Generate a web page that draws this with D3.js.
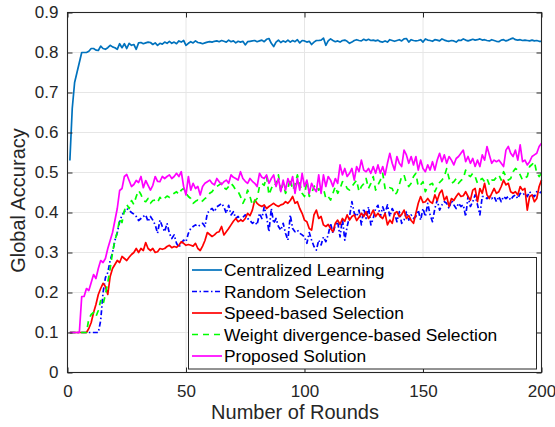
<!DOCTYPE html>
<html>
<head>
<meta charset="utf-8">
<script src="https://cdn.jsdelivr.net/npm/d3@7"></script>
<style>
  body { margin: 0; background: #fff; }
  svg { display: block; font-family: "Liberation Sans", Arial, Helvetica, sans-serif; }
</style>
</head>
<body>
<div id="display"></div>
<script>
// accuracy per round (rounds 1..200)
var centralized = [
  0.53, 0.66, 0.725, 0.75, 0.775, 0.80, 0.80, 0.80, 0.803, 0.81,
  0.81, 0.806, 0.805, 0.816, 0.81, 0.808, 0.812, 0.818, 0.814, 0.812,
  0.808, 0.822, 0.812, 0.822, 0.81, 0.823, 0.818, 0.82, 0.808, 0.824,
  0.825, 0.822, 0.824, 0.826, 0.825, 0.82, 0.824, 0.818, 0.823, 0.821,
  0.826, 0.823, 0.828, 0.823, 0.826, 0.822, 0.829, 0.826, 0.83, 0.818,
  0.823, 0.827, 0.824, 0.829, 0.825, 0.824, 0.822, 0.824, 0.826, 0.827,
  0.826, 0.828, 0.829, 0.827, 0.83, 0.828, 0.826, 0.831, 0.827, 0.829,
  0.824, 0.828, 0.826, 0.828, 0.819, 0.827, 0.828, 0.829, 0.83, 0.827,
  0.829, 0.831, 0.827, 0.833, 0.835, 0.823, 0.815, 0.826, 0.831, 0.825,
  0.829, 0.826, 0.831, 0.826, 0.83, 0.827, 0.832, 0.824, 0.83, 0.829,
  0.826, 0.828, 0.82, 0.826, 0.83, 0.83, 0.831, 0.836, 0.818, 0.829,
  0.834, 0.83, 0.827, 0.829, 0.826, 0.83, 0.831, 0.828, 0.823, 0.826,
  0.83, 0.832, 0.83, 0.829, 0.833, 0.83, 0.833, 0.83, 0.831, 0.829,
  0.831, 0.827, 0.826, 0.829, 0.826, 0.832, 0.83, 0.828, 0.83, 0.832,
  0.829, 0.834, 0.835, 0.826, 0.832, 0.83, 0.829, 0.83, 0.832, 0.826,
  0.834, 0.831, 0.83, 0.828, 0.832, 0.831, 0.829, 0.834, 0.831, 0.829,
  0.828, 0.83, 0.829, 0.826, 0.831, 0.83, 0.834, 0.831, 0.829, 0.831,
  0.833, 0.831, 0.832, 0.834, 0.831, 0.832, 0.83, 0.829, 0.832, 0.83,
  0.828, 0.827, 0.831, 0.832, 0.829, 0.831, 0.834, 0.836, 0.832, 0.831,
  0.832, 0.83, 0.831, 0.83, 0.829, 0.831, 0.829, 0.83, 0.828, 0.828];

var randomSel = [
  0.1, 0.1, 0.1, 0.1, 0.1, 0.1, 0.1, 0.1, 0.1, 0.1,
  0.1, 0.1, 0.1, 0.13, 0.2, 0.237, 0.25, 0.28, 0.3, 0.33,
  0.35, 0.377, 0.394, 0.402, 0.41, 0.405, 0.4, 0.396, 0.39, 0.38,
  0.385, 0.39, 0.394, 0.377, 0.39, 0.381, 0.369, 0.348, 0.381, 0.365,
  0.352, 0.373, 0.348, 0.335, 0.344, 0.323, 0.313, 0.323, 0.331, 0.327,
  0.348, 0.36, 0.365, 0.369, 0.365, 0.369, 0.373, 0.365, 0.398, 0.406,
  0.41, 0.402, 0.414, 0.418, 0.423, 0.414, 0.398, 0.418, 0.394, 0.402,
  0.385, 0.39, 0.381, 0.388, 0.394, 0.385, 0.38, 0.373, 0.377, 0.369,
  0.398, 0.385, 0.414, 0.39, 0.352, 0.41, 0.373, 0.385, 0.365, 0.356,
  0.373, 0.348, 0.331, 0.394, 0.36, 0.352, 0.356, 0.348, 0.344, 0.339,
  0.323, 0.35, 0.331, 0.315, 0.306, 0.331, 0.319, 0.339, 0.327, 0.344,
  0.373, 0.348, 0.369, 0.377, 0.339, 0.385, 0.331, 0.365, 0.39, 0.427,
  0.398, 0.39, 0.406, 0.369, 0.41, 0.385, 0.414, 0.369, 0.385, 0.41,
  0.418, 0.39, 0.414, 0.398, 0.419, 0.39, 0.41, 0.398, 0.377, 0.402,
  0.373, 0.381, 0.402, 0.381, 0.394, 0.385, 0.39, 0.406, 0.381, 0.41,
  0.39, 0.423, 0.394, 0.377, 0.41, 0.431, 0.406, 0.419, 0.427, 0.423,
  0.41, 0.431, 0.419, 0.41, 0.423, 0.415, 0.419, 0.39, 0.44, 0.415,
  0.427, 0.444, 0.419, 0.394, 0.44, 0.44, 0.435, 0.44, 0.435, 0.44,
  0.427, 0.44, 0.427, 0.44, 0.435, 0.44, 0.431, 0.44, 0.444, 0.435,
  0.448, 0.444, 0.448, 0.44, 0.452, 0.444, 0.44, 0.452, 0.448, 0.452];

var speedSel = [
  0.1, 0.1, 0.1, 0.1, 0.1, 0.1, 0.1, 0.1, 0.11, 0.125,
  0.15, 0.17, 0.195, 0.21, 0.223, 0.215, 0.195, 0.24, 0.26, 0.27,
  0.28, 0.275, 0.29, 0.285, 0.28, 0.288, 0.295, 0.3, 0.31, 0.3,
  0.31, 0.305, 0.325, 0.31, 0.305, 0.31, 0.3, 0.302, 0.31, 0.308,
  0.31, 0.315, 0.318, 0.312, 0.315, 0.313, 0.318, 0.327, 0.323, 0.318,
  0.32, 0.318, 0.316, 0.323, 0.31, 0.305, 0.316, 0.33, 0.35, 0.345,
  0.34, 0.344, 0.35, 0.352, 0.365, 0.344, 0.352, 0.36, 0.369, 0.378,
  0.385, 0.377, 0.381, 0.378, 0.385, 0.398, 0.392, 0.406, 0.431, 0.423,
  0.418, 0.415, 0.419, 0.41, 0.415, 0.419, 0.423, 0.418, 0.415, 0.419,
  0.421, 0.427, 0.423, 0.43, 0.44, 0.423, 0.427, 0.41, 0.398, 0.381,
  0.377, 0.36, 0.356, 0.394, 0.406, 0.385, 0.39, 0.369, 0.365, 0.37,
  0.36, 0.352, 0.373, 0.381, 0.37, 0.385, 0.378, 0.394, 0.381, 0.39,
  0.394, 0.38, 0.388, 0.398, 0.39, 0.402, 0.385, 0.394, 0.406, 0.39,
  0.398, 0.39, 0.385, 0.398, 0.369, 0.381, 0.373, 0.398, 0.402, 0.39,
  0.395, 0.406, 0.385, 0.392, 0.38, 0.373, 0.398, 0.423, 0.44, 0.425,
  0.427, 0.435, 0.427, 0.423, 0.444, 0.43, 0.448, 0.456, 0.431, 0.44,
  0.415, 0.435, 0.43, 0.44, 0.448, 0.44, 0.442, 0.452, 0.44, 0.431,
  0.456, 0.46, 0.427, 0.46, 0.448, 0.473, 0.444, 0.435, 0.448, 0.46,
  0.448, 0.452, 0.465, 0.481, 0.469, 0.473, 0.452, 0.448, 0.452, 0.444,
  0.465, 0.456, 0.46, 0.406, 0.44, 0.444, 0.427, 0.435, 0.465, 0.481];

var weightSel = [
  0.1, 0.1, 0.1, 0.1, 0.1, 0.1, 0.1, 0.1, 0.134, 0.145,
  0.15, 0.14, 0.155, 0.18, 0.17, 0.195, 0.225, 0.26, 0.3, 0.33,
  0.35, 0.385, 0.375, 0.405, 0.42, 0.41, 0.43, 0.42, 0.44, 0.455,
  0.445, 0.43, 0.427, 0.435, 0.423, 0.43, 0.431, 0.425, 0.438, 0.431,
  0.436, 0.441, 0.438, 0.444, 0.448, 0.452, 0.445, 0.456, 0.46, 0.448,
  0.44, 0.435, 0.423, 0.428, 0.431, 0.425, 0.429, 0.435, 0.438, 0.448,
  0.452, 0.46, 0.465, 0.469, 0.473, 0.462, 0.458, 0.465, 0.473, 0.466,
  0.456, 0.452, 0.44, 0.423, 0.435, 0.456, 0.44, 0.419, 0.428, 0.435,
  0.465, 0.473, 0.468, 0.49, 0.444, 0.46, 0.473, 0.469, 0.494, 0.452,
  0.473, 0.448, 0.46, 0.485, 0.456, 0.47, 0.494, 0.473, 0.448, 0.44,
  0.481, 0.44, 0.448, 0.465, 0.469, 0.456, 0.462, 0.46, 0.435, 0.44,
  0.431, 0.448, 0.465, 0.448, 0.46, 0.477, 0.473, 0.46, 0.456, 0.465,
  0.473, 0.481, 0.452, 0.465, 0.472, 0.485, 0.46, 0.473, 0.49, 0.456,
  0.469, 0.481, 0.498, 0.46, 0.456, 0.462, 0.46, 0.444, 0.45, 0.469,
  0.49, 0.494, 0.473, 0.465, 0.473, 0.49, 0.498, 0.465, 0.469, 0.477,
  0.452, 0.465, 0.47, 0.473, 0.452, 0.465, 0.475, 0.481, 0.49, 0.51,
  0.485, 0.473, 0.477, 0.485, 0.473, 0.48, 0.485, 0.506, 0.494, 0.49,
  0.498, 0.49, 0.473, 0.481, 0.485, 0.477, 0.485, 0.469, 0.481, 0.481,
  0.488, 0.494, 0.481, 0.502, 0.49, 0.481, 0.485, 0.502, 0.51, 0.506,
  0.494, 0.481, 0.486, 0.49, 0.515, 0.52, 0.527, 0.498, 0.49, 0.498];

var proposed = [
  0.1, 0.1, 0.1, 0.1, 0.1, 0.19, 0.19, 0.21, 0.205, 0.225,
  0.245, 0.235, 0.26, 0.28, 0.275, 0.285, 0.31, 0.33, 0.35, 0.38,
  0.41, 0.455, 0.46, 0.49, 0.495, 0.48, 0.465, 0.47, 0.48, 0.475,
  0.49, 0.462, 0.48, 0.468, 0.456, 0.468, 0.49, 0.478, 0.477, 0.49,
  0.485, 0.49, 0.494, 0.485, 0.49, 0.498, 0.49, 0.502, 0.465, 0.444,
  0.49, 0.456, 0.473, 0.46, 0.465, 0.444, 0.465, 0.473, 0.477, 0.481,
  0.473, 0.469, 0.485, 0.477, 0.47, 0.477, 0.481, 0.473, 0.494, 0.488,
  0.485, 0.481, 0.502, 0.485, 0.478, 0.473, 0.485, 0.478, 0.473, 0.465,
  0.498, 0.488, 0.485, 0.494, 0.473, 0.485, 0.494, 0.465, 0.485, 0.452,
  0.481, 0.456, 0.485, 0.469, 0.49, 0.448, 0.485, 0.456, 0.498, 0.465,
  0.481, 0.448, 0.473, 0.46, 0.452, 0.494, 0.448, 0.494, 0.465, 0.49,
  0.481, 0.465, 0.485, 0.473, 0.519, 0.494, 0.51, 0.49, 0.498, 0.51,
  0.481, 0.515, 0.502, 0.531, 0.506, 0.502, 0.51, 0.498, 0.515, 0.498,
  0.519, 0.498, 0.515, 0.494, 0.523, 0.548, 0.523, 0.506, 0.54, 0.523,
  0.515, 0.556, 0.544, 0.523, 0.54, 0.519, 0.54, 0.506, 0.531, 0.51,
  0.502, 0.519, 0.506, 0.527, 0.506, 0.531, 0.548, 0.527, 0.544, 0.523,
  0.54, 0.531, 0.519, 0.535, 0.54, 0.548, 0.556, 0.527, 0.54, 0.523,
  0.535, 0.515, 0.531, 0.515, 0.544, 0.531, 0.565, 0.544, 0.523, 0.531,
  0.527, 0.531, 0.523, 0.515, 0.556, 0.565, 0.548, 0.54, 0.556, 0.531,
  0.569, 0.527, 0.531, 0.519, 0.527, 0.54, 0.544, 0.548, 0.565, 0.573];

var seriesNames = ["Centralized Learning", "Random Selection", "Speed-based Selection",
  "Weight divergence-based Selection", "Proposed Solution"];
var xTicks = [0, 50, 100, 150, 200];
var yTicks = [0, 0.1, 0.2, 0.3, 0.4, 0.5, 0.6, 0.7, 0.8, 0.9];
var yTickLabels = ["0", "0.1", "0.2", "0.3", "0.4", "0.5", "0.6", "0.7", "0.8", "0.9"];

var width = 555,
    height = 427;

var svg = d3.select("#display")
    .append("svg")
    .attr("width", width)
    .attr("height", height);

var x = d3.scaleLinear().domain([0, 200]).range([67.5, 541.5]);
var y = d3.scaleLinear().domain([0, 0.9]).range([372.5, 12.5]);

var axisColor = "#262626";

//grid
svg.append("g")
    .selectAll("line")
    .data(xTicks.slice(1, -1))
    .enter()
    .append("line")
    .attr("x1", d => x(d)).attr("x2", d => x(d))
    .attr("y1", y(0)).attr("y2", y(0.9))
    .attr("stroke", "#e6e6e6");

svg.append("g")
    .selectAll("line")
    .data(yTicks.slice(1, -1))
    .enter()
    .append("line")
    .attr("x1", x(0)).attr("x2", x(200))
    .attr("y1", d => y(d)).attr("y2", d => y(d))
    .attr("stroke", "#e6e6e6");

//series, same order as the legend
var series = [
    { name: seriesNames[0], values: centralized, color: "#0072BD", dash: null },
    { name: seriesNames[1], values: randomSel, color: "#0000FF", dash: "5,2.5,1.5,2.5" },
    { name: seriesNames[2], values: speedSel, color: "#FF0000", dash: null },
    { name: seriesNames[3], values: weightSel, color: "#00FF00", dash: "6,5" },
    { name: seriesNames[4], values: proposed, color: "#FF00FF", dash: null }];

var line = d3.line()
    .x((d, i) => x(i + 1))
    .y(d => y(d));

svg.append("g")
    .selectAll("path")
    .data(series)
    .enter()
    .append("path")
    .attr("d", d => line(d.values))
    .attr("fill", "none")
    .attr("stroke", d => d.color)
    .attr("stroke-width", 1.7)
    .attr("stroke-linejoin", "round")
    .attr("stroke-dasharray", d => d.dash);

//axes, ticks pointing inward
function styleAxis(g) {
    g.select(".domain").remove();
    g.attr("font-family", null).attr("font-size", null);
    g.selectAll(".tick line").attr("stroke", axisColor);
    g.selectAll(".tick text")
        .attr("fill", axisColor)
        .style("font-size", "17px");
}

svg.append("g")
    .attr("transform", "translate(0," + y(0) + ")")
    .call(d3.axisBottom(x).tickValues(xTicks).tickSizeInner(-5).tickSizeOuter(0).tickPadding(12.5))
    .call(styleAxis);

svg.append("g")
    .attr("transform", "translate(" + x(0) + ",0)")
    .call(d3.axisLeft(y).tickValues(yTicks).tickSizeInner(-5).tickSizeOuter(0).tickPadding(9)
        .tickFormat((d, i) => yTickLabels[i]))
    .call(styleAxis);

svg.append("g")
    .attr("transform", "translate(0," + y(0.9) + ")")
    .call(d3.axisTop(x).tickValues(xTicks).tickSizeInner(-5).tickSizeOuter(0).tickFormat(""))
    .call(styleAxis);

svg.append("g")
    .attr("transform", "translate(" + x(200) + ",0)")
    .call(d3.axisRight(y).tickValues(yTicks).tickSizeInner(-5).tickSizeOuter(0).tickFormat(""))
    .call(styleAxis);

svg.append("rect")
    .attr("x", x(0)).attr("y", y(0.9))
    .attr("width", x(200) - x(0)).attr("height", y(0) - y(0.9))
    .attr("fill", "none")
    .attr("stroke", axisColor)
    .attr("stroke-width", 1.1);

//axis titles (a little off-centre, like the original)
svg.append("text")
    .attr("x", 295)
    .attr("y", 419)
    .attr("text-anchor", "middle")
    .attr("fill", axisColor)
    .style("font-size", "20px")
    .text("Number of Rounds");

svg.append("text")
    .attr("transform", "translate(25,200.5) rotate(-90)")
    .attr("text-anchor", "middle")
    .attr("fill", axisColor)
    .style("font-size", "20px")
    .text("Global Accuracy");

//legend
var legend = svg.append("g");

legend.append("rect")
    .attr("x", 188.5).attr("y", 257.5)
    .attr("width", 348).attr("height", 111.5)
    .attr("fill", "#fff")
    .attr("stroke", axisColor)
    .attr("stroke-width", 1);

var rowY = d3.scaleLinear().domain([0, 4]).range([270, 356]);

var row = legend.selectAll(".row")
    .data(series)
    .enter()
    .append("g")
    .attr("class", "row")
    .attr("transform", (d, i) => "translate(0," + rowY(i) + ")");

row.append("line")
    .attr("x1", 192).attr("x2", 222)
    .attr("stroke", d => d.color)
    .attr("stroke-width", 1.7)
    .attr("stroke-dasharray", d => d.dash);

row.append("text")
    .attr("x", 224)
    .attr("y", 6)
    .attr("fill", "#000")
    .style("font-size", "17.4px")
    .text(d => d.name);
</script>
</body>
</html>
